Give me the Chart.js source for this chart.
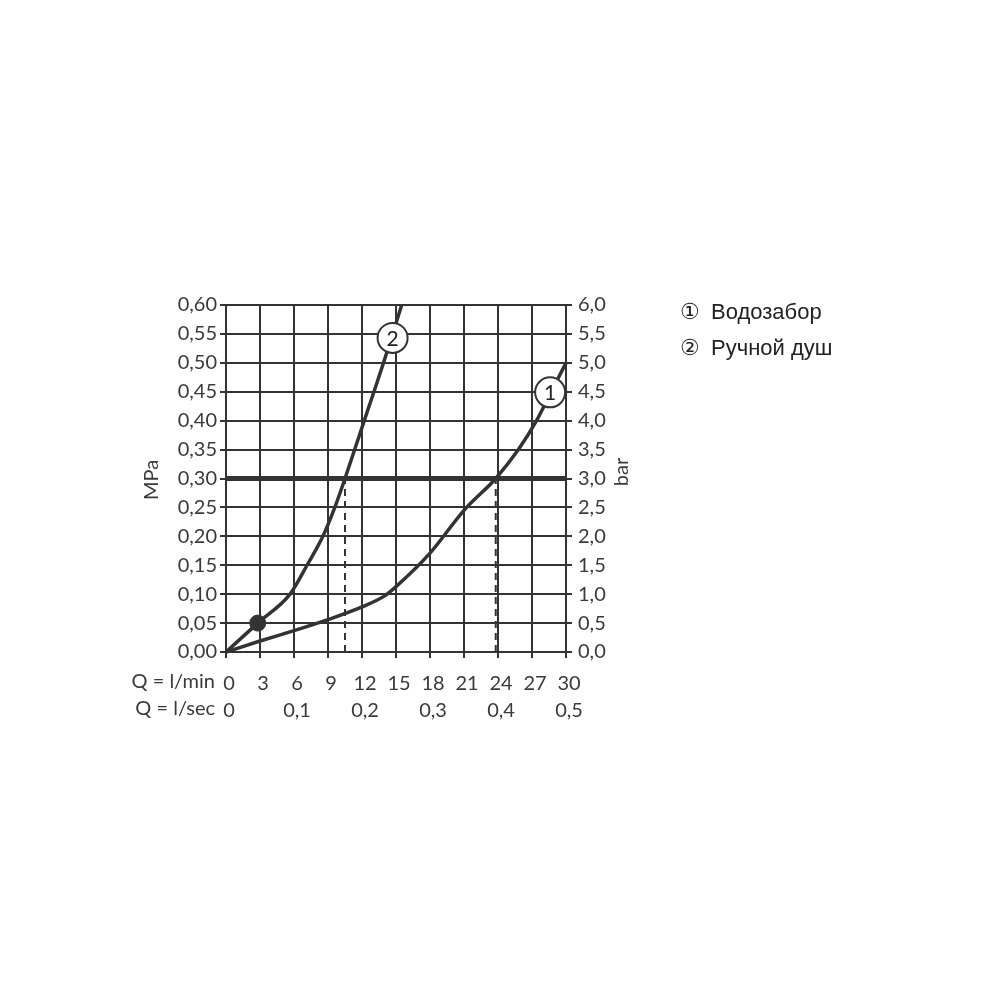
<!DOCTYPE html>
<html>
<head>
<meta charset="utf-8">
<script src="https://cdn.jsdelivr.net/npm/chart.js@4.4.1/dist/chart.umd.min.js"></script>
<style>
    html, body { margin: 0; padding: 0; background: #fff; }
    #wrap { position: relative; width: 1000px; height: 1000px; }
    .legend-item {
        position: absolute;
        left: 680px;
        font-family: "Liberation Sans", Arial, sans-serif;
        font-size: 22px;
        color: #222;
        white-space: nowrap;
    }
    .legend-item .num { display: inline-block; width: 31px; }
</style>
</head>
<body>
<div id="wrap">
    <canvas id="chart" width="1000" height="1000"></canvas>
    <div class="legend-item" style="top:299px;"><span class="num">①</span>Водозабор</div>
    <div class="legend-item" style="top:335px;"><span class="num">②</span>Ручной душ</div>
</div>
<script>
// Flow (l/min) vs pressure (MPa)
const intakeFlow = [0, 3, 6, 9, 12, 14, 15, 18, 21, 23.8, 25.8, 27.4, 28.7, 30];
const intakePressure = [0, 0.019, 0.037, 0.056, 0.078, 0.097, 0.113, 0.171, 0.245, 0.30, 0.35, 0.40, 0.45, 0.50];

const showerFlow = [0, 2.8, 5.65, 7.15, 8.55, 9.6, 10.5, 12.2, 13.9, 15.5];
const showerPressure = [0, 0.05, 0.10, 0.15, 0.20, 0.25, 0.30, 0.40, 0.50, 0.60];

const referencePressure = 0.30;
const intakeAtReference = 23.8;
const showerAtReference = 10.5;
const markerPoint = { x: 2.8, y: 0.05 };

// curve number badges: [label, flow, pressure]
const badges = [['1', 28.6, 0.449], ['2', 14.7, 0.543]];

const lineColor = '#333';
const textColor = '#3a3a3a';
const fontFamily = 'Lato, "Open Sans", sans-serif';
const tickFont = { family: fontFamily, size: 20 };

function comma(v, digits) {
    return v.toFixed(digits).replace('.', ',');
}

function toPoints(xs, ys) {
    return xs.map((x, i) => ({ x, y: ys[i] }));
}

const overlayPlugin = {
    id: 'overlay',
    afterDatasetsDraw(chart) {
        const { ctx, scales } = chart;
        ctx.save();
        badges.forEach(([label, x, y]) => {
            const px = scales.x.getPixelForValue(x);
            const py = scales.y.getPixelForValue(y);
            ctx.beginPath();
            ctx.arc(px, py, 15, 0, Math.PI * 2);
            ctx.fillStyle = '#fff';
            ctx.fill();
            ctx.lineWidth = 2;
            ctx.strokeStyle = lineColor;
            ctx.stroke();
            ctx.fillStyle = '#222';
            ctx.font = '21px ' + fontFamily;
            ctx.textAlign = 'center';
            ctx.textBaseline = 'middle';
            ctx.fillText(label, px, py + 1);
        });

        ctx.fillStyle = textColor;
        ctx.font = '20px ' + fontFamily;
        ctx.textAlign = 'right';
        ctx.textBaseline = 'middle';
        ctx.fillText('Q = l/min', 215, 682);
        ctx.fillText('Q = l/sec', 215, 709);

        ctx.textAlign = 'center';
        ctx.translate(152, 480);
        ctx.rotate(-Math.PI / 2);
        ctx.fillText('MPa', 0, 0);
        ctx.restore();

        ctx.save();
        ctx.fillStyle = textColor;
        ctx.font = '20px ' + fontFamily;
        ctx.textAlign = 'center';
        ctx.textBaseline = 'middle';
        ctx.translate(622, 472);
        ctx.rotate(-Math.PI / 2);
        ctx.fillText('bar', 0, 0);
        ctx.restore();
    }
};

new Chart(document.getElementById('chart'), {
    type: 'scatter',
    data: {
        datasets: [
            {
                data: [{ x: 0, y: referencePressure }, { x: 30, y: referencePressure }],
                showLine: true, borderColor: lineColor, borderWidth: 5, pointRadius: 0
            },
            {
                data: [{ x: showerAtReference, y: 0 }, { x: showerAtReference, y: referencePressure }],
                showLine: true, borderColor: lineColor, borderWidth: 2, borderDash: [7, 5], pointRadius: 0
            },
            {
                data: [{ x: intakeAtReference, y: 0 }, { x: intakeAtReference, y: referencePressure }],
                showLine: true, borderColor: lineColor, borderWidth: 2, borderDash: [7, 5], pointRadius: 0
            },
            {
                data: toPoints(intakeFlow, intakePressure),
                showLine: true, borderColor: lineColor, borderWidth: 3.5, pointRadius: 0,
                cubicInterpolationMode: 'monotone'
            },
            {
                data: toPoints(showerFlow, showerPressure),
                showLine: true, borderColor: lineColor, borderWidth: 3.5, pointRadius: 0,
                cubicInterpolationMode: 'monotone'
            },
            {
                data: [markerPoint],
                pointRadius: 8, pointBackgroundColor: lineColor, pointBorderColor: lineColor
            },
            {
                // binds the l/sec axis
                data: [], xAxisID: 'x2', yAxisID: 'y2', pointRadius: 0
            }
        ]
    },
    options: {
        responsive: false,
        animation: false,
        clip: false,
        layout: { padding: { left: 0, right: 334, top: 305, bottom: 275 } },
        plugins: { legend: { display: false }, tooltip: { enabled: false } },
        scales: {
            x: {
                type: 'linear', position: 'bottom', min: 0, max: 30, weight: 1,
                afterFit: s => { s.height = 43; },
                grid: { color: lineColor, lineWidth: 2, tickLength: 6 },
                border: { color: lineColor, width: 2 },
                ticks: {
                    stepSize: 3, color: textColor, font: tickFont, padding: 14, labelOffset: 3,
                    callback: v => String(v)
                }
            },
            x2: {
                type: 'linear', position: 'bottom', min: 0, max: 0.5, weight: 2, display: true,
                afterFit: s => { s.height = 30; },
                grid: { display: false, drawTicks: false },
                border: { display: false },
                ticks: {
                    stepSize: 0.1, color: textColor, font: tickFont, padding: 4, labelOffset: 3,
                    callback: v => v === 0 ? '0' : comma(v, 1)
                }
            },
            y: {
                type: 'linear', position: 'left', min: 0, max: 0.6,
                afterFit: s => { s.width = 226; },
                grid: { color: lineColor, lineWidth: 2, tickLength: 6 },
                border: { color: lineColor, width: 2 },
                ticks: {
                    stepSize: 0.05, color: textColor, font: tickFont, padding: 3,
                    callback: v => comma(v, 2)
                }
            },
            y2: {
                type: 'linear', position: 'right', min: 0, max: 6,
                afterFit: s => { s.width = 100; },
                grid: { display: true, drawOnChartArea: false, color: lineColor, lineWidth: 2, tickLength: 6 },
                border: { color: lineColor, width: 2 },
                ticks: {
                    stepSize: 0.5, color: textColor, font: tickFont, padding: 6,
                    callback: v => comma(v, 1)
                }
            }
        }
    },
    plugins: [overlayPlugin]
});
</script>
</body>
</html>
